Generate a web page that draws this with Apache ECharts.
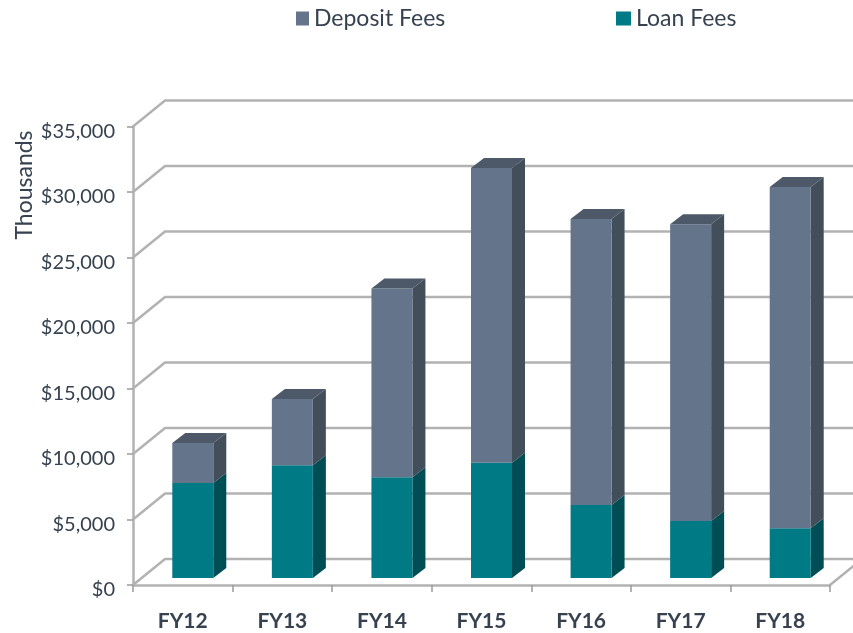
<!DOCTYPE html>
<html>
<head>
<meta charset="utf-8">
<script src="https://cdn.jsdelivr.net/npm/echarts@6/dist/echarts.min.js"></script>
<style>html,body{margin:0;padding:0;background:#fff}#c{width:853px;height:633px}</style>
</head>
<body>
<div id="c"></div>
<script>
const categories = ['FY12','FY13','FY14','FY15','FY16','FY17','FY18'];
const loanFees = [7250,8600,7700,8800,5570,4350,3800];
const depositFees = [3050,5060,14400,22500,21830,22650,26050];
const yTicks = [0,5000,10000,15000,20000,25000,30000,35000];

const GRID_LINE = '#b2b2b2';
const TEXT = '#36424f';
const FONT = 'Lato, "Open Sans", sans-serif';
const WALL = [32,-26];
const BAR_SHIFT = [10,-7];
const DEPTH = [13,-10];
const BAR_W = 41;

function barItem(colors, withTop) {
  return function (params, api) {
    const c0 = api.coord([api.value(0), api.value(1)]);
    const c1 = api.coord([api.value(0), api.value(2)]);
    const l = c0[0] - BAR_W/2 + BAR_SHIFT[0], r = l + BAR_W;
    const yb = c0[1] + BAR_SHIFT[1], yt = c1[1] + BAR_SHIFT[1];
    const kids = [
      {type:'polygon', shape:{points:[[r,yb],[r+DEPTH[0],yb+DEPTH[1]],[r+DEPTH[0],yt+DEPTH[1]],[r,yt]]}, style:{fill:colors.side}},
      {type:'rect', shape:{x:l,y:yt,width:BAR_W,height:yb-yt}, style:{fill:colors.front}}
    ];
    if (withTop) kids.push({type:'polygon', shape:{points:[[l,yt],[l+DEPTH[0],yt+DEPTH[1]],[r+DEPTH[0],yt+DEPTH[1]],[r,yt]]}, style:{fill:colors.top}});
    return {type:'group', children:kids};
  };
}

const loanData = categories.map((c,i)=>[i,0,loanFees[i]]);
const depositData = categories.map((c,i)=>[i,loanFees[i],loanFees[i]+depositFees[i]]);

const chart = echarts.init(document.getElementById('c'), null, {renderer:'canvas'});
chart.setOption({
  animation:false,
  backgroundColor:'#fff',
  textStyle:{fontFamily:FONT},
  legend:[
    {left:291,top:2,icon:'rect',itemWidth:13,itemHeight:14,itemGap:5,data:['Deposit Fees'],textStyle:{color:TEXT,fontSize:23,fontFamily:FONT},selectedMode:false},
    {left:611,top:2,icon:'rect',itemWidth:15,itemHeight:14,itemGap:5,data:['Loan Fees'],textStyle:{color:TEXT,fontSize:23,fontFamily:FONT},selectedMode:false}
  ],
  grid:{left:133,right:23,top:126.5,bottom:48,containLabel:false},
  xAxis:{type:'category',data:categories,
    axisLine:{lineStyle:{color:GRID_LINE,width:2.5}},
    axisTick:{show:true,alignWithLabel:false,length:7,lineStyle:{color:'#9a9a9a',width:1.5}},
    axisLabel:{color:TEXT,fontSize:21,fontWeight:'bold',margin:26,fontFamily:FONT},
    splitLine:{show:false}},
  yAxis:{type:'value',min:0,max:35000,interval:5000,
    axisLine:{show:true,lineStyle:{color:GRID_LINE,width:2.5}},
    axisTick:{show:true,length:6,lineStyle:{color:'#9a9a9a',width:1.5}},
    axisLabel:{color:TEXT,fontSize:20,margin:18,fontFamily:FONT,verticalAlign:'top',lineHeight:10,
      formatter:v=>'$'+v.toLocaleString('en-US')},
    splitLine:{show:false}},
  graphic:[{type:'text',x:25,y:185,rotation:Math.PI/2,
    style:{text:'Thousands',fill:TEXT,fontSize:23,fontFamily:FONT,align:'center',verticalAlign:'middle'}}],
  series:[
    {type:'custom',name:'wall',clip:false,silent:true,z:1,data:yTicks.map(v=>[0,v]),
      renderItem(params,api){
        const cs=params.coordSys, y=api.coord([0,api.value(1)])[1];
        const x0=cs.x, x1=cs.x+cs.width;
        const style={stroke:GRID_LINE,lineWidth:2.5,fill:null};
        const kids=[{type:'polyline',shape:{points:[[x0,y],[x0+WALL[0],y+WALL[1]],[x1+WALL[0],y+WALL[1]]]},style}];
        if(api.value(1)===0) kids.push({type:'line',shape:{x1:x1,y1:y,x2:x1+WALL[0],y2:y+WALL[1]},style});
        return {type:'group',children:kids};
      }},
    {type:'custom',name:'Loan Fees',clip:false,z:3,data:loanData,encode:{x:0,y:[1,2]},
      itemStyle:{color:'#007a85'},
      renderItem:barItem({front:'#007a85',side:'#004e55'},false)},
    {type:'custom',name:'Deposit Fees',clip:false,z:3,data:depositData,encode:{x:0,y:[1,2]},
      itemStyle:{color:'#64748b'},
      renderItem:barItem({front:'#64748b',side:'#434e5b',top:'#4d5968'},true)}
  ]
});
</script>
</body>
</html>
